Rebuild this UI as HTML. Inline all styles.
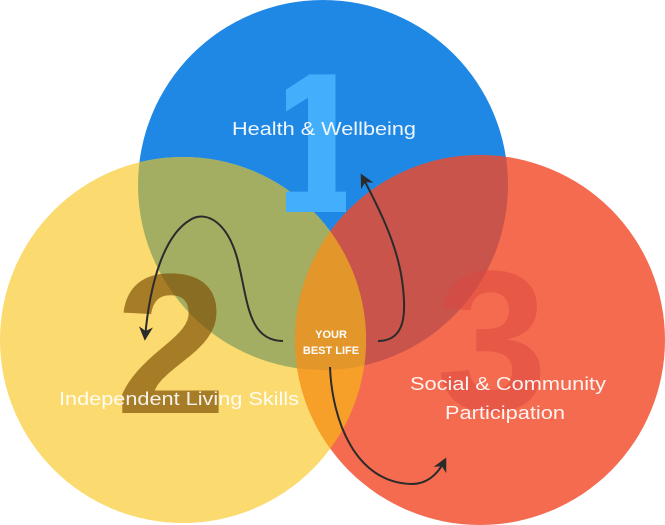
<!DOCTYPE html>
<html><head><meta charset="utf-8"><style>html,body{margin:0;padding:0;background:#fff;width:665px;height:525px;overflow:hidden}
text{font-family:"Liberation Sans",Arial,sans-serif}
.num{font-family:"Liberation Sans",Arial,sans-serif;font-weight:700}</style></head>
<body>
<svg width="665" height="525" viewBox="0 0 665 525" xmlns="http://www.w3.org/2000/svg">
<defs>
<clipPath id="cb"><circle cx="323" cy="185" r="185"/></clipPath>
<clipPath id="cy"><circle cx="183" cy="340" r="183"/></clipPath>
<clipPath id="c1"><rect x="286" y="60" width="60" height="153"/></clipPath>
<marker id="ah" viewBox="0 0 10 10" refX="8" refY="5" markerWidth="7" markerHeight="7" orient="auto"><path d="M0,0 L10,5 L0,10 L3,5 z" fill="#2b2b2b"/></marker>
</defs>
<circle cx="323" cy="185" r="185" fill="#1f88e4"/>
<circle cx="183" cy="340" r="183" fill="#fbda70"/>
<circle cx="480" cy="340" r="185" fill="#f46b50"/>
<circle cx="183" cy="340" r="183" fill="#a3ae63" clip-path="url(#cb)"/>
<circle cx="480" cy="340" r="185" fill="#c8544c" clip-path="url(#cb)"/>
<g clip-path="url(#cy)"><circle cx="480" cy="340" r="185" fill="#f6a02a"/></g>
<g clip-path="url(#cb)"><g clip-path="url(#cy)"><circle cx="480" cy="340" r="185" fill="#e3962a"/></g></g>
<g clip-path="url(#c1)"><text class="num" x="317" y="212" font-size="200" fill="#42aefc" text-anchor="middle">1</text></g>
<text class="num" x="171" y="413" font-size="200" fill="#7a4a00" fill-opacity="0.65" text-anchor="middle">2</text>
<text class="num" x="492" y="410" font-size="200" fill="#d9453d" fill-opacity="0.5" text-anchor="middle">3</text>
<text x="324" y="135" font-size="18" fill="#fff" fill-opacity="0.92" text-anchor="middle" textLength="184" lengthAdjust="spacingAndGlyphs">Health &amp; Wellbeing</text>
<text x="179" y="405" font-size="18" fill="#fff" fill-opacity="0.9" text-anchor="middle" textLength="240" lengthAdjust="spacingAndGlyphs">Independent Living Skills</text>
<text x="508" y="390" font-size="18" fill="#fff" fill-opacity="0.92" text-anchor="middle" textLength="196" lengthAdjust="spacingAndGlyphs">Social &amp; Community</text>
<text x="505" y="419" font-size="18" fill="#fff" fill-opacity="0.92" text-anchor="middle" textLength="120" lengthAdjust="spacingAndGlyphs">Participation</text>
<text x="331" y="338" font-size="11" font-weight="bold" fill="#fff" text-anchor="middle">YOUR</text>
<text x="331" y="354" font-size="11" font-weight="bold" fill="#fff" text-anchor="middle">BEST LIFE</text>
<g fill="none" stroke="#2b2b2b" stroke-width="2">
<path d="M283,341 C250,341 248,305 240,270 C230,220 205,210 190,220 C165,235 150,280 145,338" marker-end="url(#ah)"/>
<path d="M378,341 C405,341 407,315 402,280 C397,245 380,210 362,176" marker-end="url(#ah)"/>
<path d="M330,367 C332,420 355,483 412,484 C430,484 440,470 445,460" marker-end="url(#ah)"/>
</g>
</svg>
</body></html>
